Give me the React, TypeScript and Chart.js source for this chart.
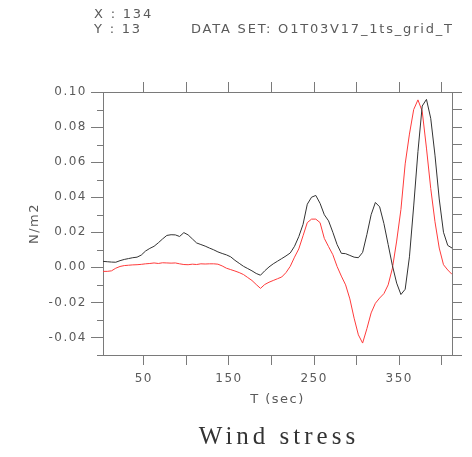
import React, { useEffect, useRef } from "react";
import { Chart, registerables } from "chart.js";

Chart.register(...registerables);

// Time axis (seconds)
const timeSec = [
  2, 7, 12, 17, 22, 27, 32, 37, 42, 47,
  52, 57, 62, 67, 72, 77, 82, 87, 92, 97,
  102, 107, 112, 117, 122, 127, 132, 137, 142, 147,
  152, 157, 162, 167, 172, 177, 182, 187, 192, 197,
  202, 207, 212, 217, 222, 227, 232, 237, 242, 247,
  252, 257, 262, 267, 272, 277, 282, 287, 292, 297,
  302, 307, 312, 317, 322, 327, 332, 337, 342, 347,
  352, 357, 362, 367, 372, 377, 382, 387, 392, 397,
  402, 407, 412,
];

// Black series (N/m2)
const stressBlack = [
  0.0034, 0.0032, 0.003, 0.0029, 0.0038, 0.0045, 0.005, 0.0055, 0.0058, 0.007,
  0.0093, 0.0108, 0.012, 0.014, 0.0162, 0.0182, 0.0186, 0.0185, 0.0176, 0.0198,
  0.0185, 0.0162, 0.0139, 0.013, 0.0121, 0.011, 0.01, 0.0088, 0.0079, 0.0071,
  0.006, 0.004, 0.0023, 0.0006, -0.0007, -0.002, -0.0035, -0.0045, -0.002, 0.0002,
  0.002, 0.0035, 0.005, 0.0065, 0.0082, 0.012, 0.0175, 0.0245, 0.036, 0.04,
  0.041, 0.0365, 0.03, 0.0265, 0.02, 0.013, 0.008, 0.0078, 0.0068, 0.0058,
  0.0055, 0.0085, 0.0187, 0.03, 0.037, 0.0345, 0.025, 0.013, 0.001, -0.009,
  -0.0155, -0.0125, 0.006, 0.035, 0.066, 0.092, 0.0958, 0.085, 0.064, 0.039,
  0.02, 0.0125, 0.011,
];

// Red series (N/m2)
const stressRed = [
  -0.0023, -0.0023, -0.002, -0.0005, 0.0005, 0.001, 0.0012, 0.0014, 0.0015, 0.0017,
  0.002, 0.0022, 0.0025, 0.0022, 0.0026, 0.0025, 0.0024, 0.0025, 0.002, 0.0016,
  0.0015, 0.0018, 0.0016, 0.002, 0.0019, 0.002, 0.002, 0.0018, 0.0008, -0.0005,
  -0.0013, -0.0021, -0.003, -0.0041, -0.0058, -0.0075, -0.0098, -0.012, -0.0098, -0.0085,
  -0.0075, -0.0065, -0.0055, -0.003, 0.0006, 0.0058, 0.0105, 0.018, 0.0255, 0.0275,
  0.0275, 0.0255, 0.0165, 0.0118, 0.0072, 0.0005, -0.005, -0.01, -0.018, -0.029,
  -0.0385, -0.0432, -0.035, -0.026, -0.0205, -0.0175, -0.015, -0.01, -0.0005, 0.015,
  0.033, 0.059, 0.076, 0.09, 0.0955, 0.089, 0.068, 0.045, 0.026, 0.011,
  0.0015, -0.0015, -0.004,
];

const xTickValues = [50, 100, 150, 200, 250, 300, 350, 400];
const xTickLabelled = [50, 150, 250, 350];
const yTickValues = [-0.05, -0.04, -0.03, -0.02, -0.01, 0, 0.01, 0.02, 0.03, 0.04, 0.05, 0.06, 0.07, 0.08, 0.09, 0.1];
const yTickLabelled = ["-0.04", "-0.02", "0.00", "0.02", "0.04", "0.06", "0.08", "0.10"];

const headerX = "X : 134";
const headerY = "Y : 13";
const headerDataSet = "DATA SET: O1T03V17_1ts_grid_T";
const yTitle = "N/m2";
const xTitle = "T (sec)";
const chartTitle = "Wind stress";

const AXIS_COLOR = "#7a7a7a";
const TEXT_COLOR = "#5a5a5a";
const TICK_FONT = { family: "DejaVu Sans", size: 12 };

const fmtY = (v: any) => {
  const s = Number(v).toFixed(2);
  return s === "-0.00" ? "0.00" : s;
};

export default function App() {
  const ref = useRef<HTMLCanvasElement | null>(null);

  useEffect(() => {
    const canvas = ref.current;
    if (!canvas) return;

    const textPlugin = {
      id: "extraTexts",
      beforeDraw(chart: any) {
        (chart.ctx as any).letterSpacing = "1.5px";
      },
      afterDraw(chart: any) {
        const ctx = chart.ctx as CanvasRenderingContext2D;
        // short minor ticks on the left axis
        const ys = chart.scales.y;
        ctx.save();
        ctx.strokeStyle = AXIS_COLOR;
        ctx.lineWidth = 1;
        ys.ticks.forEach((t: any) => {
          if (yTickLabelled.includes(fmtY(t.value))) return;
          const py = Math.round(ys.getPixelForValue(t.value)) + 0.5;
          ctx.beginPath();
          ctx.moveTo(ys.right - 6, py);
          ctx.lineTo(ys.right, py);
          ctx.stroke();
        });
        ctx.restore();

        ctx.save();
        (ctx as any).letterSpacing = "1.8px";
        ctx.fillStyle = TEXT_COLOR;
        ctx.textBaseline = "middle";
        ctx.textAlign = "left";
        ctx.font = "13px 'DejaVu Sans'";
        ctx.fillText(headerX, 94, 15);
        ctx.fillText(headerY, 94, 30);
        ctx.fillText(headerDataSet, 191, 30);
        ctx.fillStyle = "#333";
        ctx.textAlign = "center";
        ctx.font = "25px 'Liberation Serif'";
        (ctx as any).letterSpacing = "4px";
        ctx.fillText(chartTitle, 279, 437);
        ctx.restore();
        (ctx as any).letterSpacing = "0px";
      },
    };

    const xTicks = (scale: any) => {
      scale.ticks = xTickValues.map((v) => ({ value: v }));
    };
    const yTicks = (scale: any) => {
      scale.ticks = yTickValues.map((v) => ({ value: v }));
    };
    const yLabel = (v: any) => {
      const t = fmtY(v);
      return yTickLabelled.includes(t) ? t : "";
    };

    const gridOpts = {
      drawOnChartArea: false,
      drawTicks: true,
      tickLength: 10,
      color: AXIS_COLOR,
      tickColor: AXIS_COLOR,
    };

    const chart = new Chart(canvas, {
      type: "line",
      data: {
        datasets: [
          {
            label: "black",
            data: timeSec.map((t, i) => ({ x: t, y: stressBlack[i] })),
            borderColor: "#333333",
            borderWidth: 1,
            pointRadius: 0,
            tension: 0,
            xAxisID: "x",
            yAxisID: "y",
          },
          {
            label: "red",
            data: timeSec.map((t, i) => ({ x: t, y: stressRed[i] })),
            borderColor: "#ff3b3b",
            borderWidth: 1,
            pointRadius: 0,
            tension: 0,
            xAxisID: "x",
            yAxisID: "y",
          },
        ],
      },
      options: {
        responsive: false,
        animation: false,
        devicePixelRatio: 1,
        layout: { padding: { top: 80, left: 0, right: 0, bottom: 0 } },
        plugins: { legend: { display: false }, tooltip: { enabled: false }, title: { display: false } },
        scales: {
          x: {
            type: "linear",
            position: "bottom",
            min: 2,
            max: 412,
            afterBuildTicks: xTicks,
            afterFit: (s: any) => { s.height = 102; },
            grid: gridOpts,
            border: { color: AXIS_COLOR, width: 1 },
            ticks: {
              autoSkip: false,
              maxRotation: 0,
              padding: 7,
              color: TEXT_COLOR,
              font: TICK_FONT,
              callback: (v: any) => (xTickLabelled.includes(Number(v)) ? String(v) : ""),
            },
            title: {
              display: true,
              text: xTitle,
              color: TEXT_COLOR,
              font: { family: "DejaVu Sans", size: 13 },
              padding: { bottom: 50, top: 0 },
            },
          },
          x2: {
            type: "linear",
            position: "top",
            min: 2,
            max: 412,
            afterBuildTicks: xTicks,
            afterFit: (s: any) => { s.height = 12; },
            grid: gridOpts,
            border: { color: AXIS_COLOR, width: 1 },
            ticks: { autoSkip: false, maxRotation: 0, callback: () => "" },
          },
          y: {
            type: "linear",
            position: "left",
            min: -0.05,
            max: 0.1,
            afterBuildTicks: yTicks,
            afterFit: (s: any) => { s.width = 103; },
            grid: {
              ...gridOpts,
              tickLength: 12,
              tickColor: (c: any) =>
                c.tick && yTickLabelled.includes(fmtY(c.tick.value)) ? AXIS_COLOR : "rgba(0,0,0,0)",
            },
            border: { color: AXIS_COLOR, width: 1 },
            ticks: {
              autoSkip: false,
              padding: 4,
              color: TEXT_COLOR,
              font: TICK_FONT,
              callback: yLabel,
            },
            title: {
              display: true,
              text: yTitle,
              color: TEXT_COLOR,
              font: { family: "DejaVu Sans", size: 13 },
              padding: { top: 27, bottom: 0 },
            },
          },
          y2: {
            type: "linear",
            position: "right",
            min: -0.05,
            max: 0.1,
            afterBuildTicks: yTicks,
            afterFit: (s: any) => { s.width = 20; },
            grid: gridOpts,
            border: { color: AXIS_COLOR, width: 1 },
            ticks: { autoSkip: false, callback: () => "" },
          },
        },
      },
      plugins: [textPlugin],
    } as any);

    return () => chart.destroy();
  }, []);

  return (
    <div style={{ position: "absolute", left: 0, top: 0, width: 472, height: 457, background: "#fff" }}>
      <canvas ref={ref} width={472} height={457} style={{ display: "block", width: 472, height: 457 }} />
    </div>
  );
}
